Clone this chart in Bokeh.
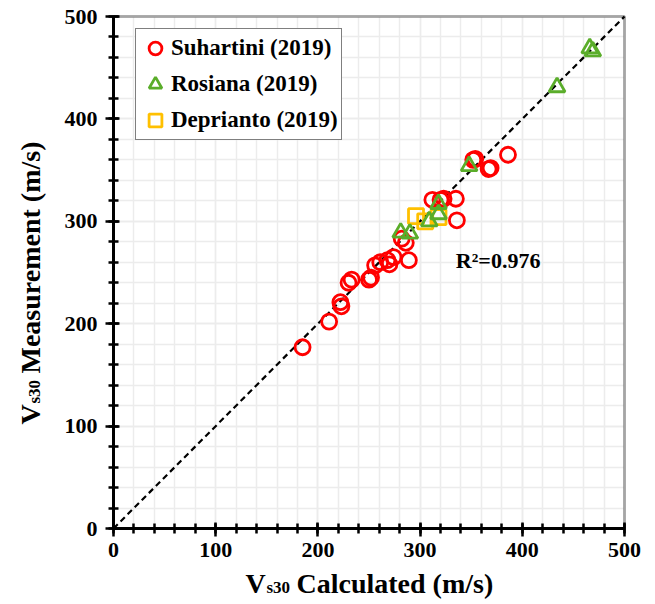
from bokeh.plotting import figure
from bokeh.models import (Range1d, SingleIntervalTicker, Label, Legend, LegendItem,
                          ColumnDataSource, BoxAnnotation)
from bokeh.embed import file_html
from bokeh.resources import INLINE
import math

# ---- data ----
suhartini_calc = [185, 211, 222, 223, 230, 233, 250, 252, 256, 261, 268, 270, 274, 282, 286, 289,
                  312, 320, 323, 335, 336, 352, 354, 367, 369, 386]
suhartini_meas = [177, 202, 221, 217, 240, 243, 243, 245, 257, 260, 262, 258, 265, 283, 279, 262,
                  321, 321, 322, 322, 301, 360, 361, 351, 352, 365]
rosiana_calc = [281, 290, 309, 318, 318, 348, 434, 466, 469]
rosiana_meas = [289, 288, 300, 307, 317, 354, 431, 469, 466]
deprianto_calc = [296, 305, 318]
deprianto_meas = [305, 300, 304]
one_to_one = [0, 500]
axis_min, axis_max = 0, 500
r2_text = "R\u00b2=0.976"
series_names = ["Suhartini (2019)", "Rosiana (2019)", "Deprianto (2019)"]

FONT = "Liberation Serif"
RED = "#FF0000"
GREEN = "#5AAD2A"
YELLOW = "#FFC000"

W, H = 655, 604
# pixel placement of the data area inside the canvas
L_PX, R_PX, T_PX, B_PX = 113, 624, 16, 528
xs = (axis_max - axis_min) / (R_PX - L_PX)
ys = (axis_max - axis_min) / (B_PX - T_PX)
x_range = Range1d(axis_min - L_PX * xs, axis_max + (W - R_PX) * xs)
y_range = Range1d(axis_min - (H - B_PX) * ys, axis_max + T_PX * ys)

p = figure(width=W, height=H, output_backend="svg", toolbar_location=None,
           x_range=x_range, y_range=y_range,
           min_border_left=0, min_border_right=0, min_border_top=0, min_border_bottom=0)
p.background_fill_color = "white"
p.border_fill_color = "white"
p.outline_line_color = None

for ax in (p.xaxis[0], p.yaxis[0]):
    ax.fixed_location = 0
    ax.bounds = (axis_min, axis_max)
    ax.ticker = SingleIntervalTicker(interval=100, num_minor_ticks=5)
    ax.axis_line_width = 3
    ax.axis_line_color = "black"
    ax.major_tick_line_width = 2.5
    ax.minor_tick_line_width = 2.5
    ax.major_tick_in = 6
    ax.major_tick_out = 8
    ax.minor_tick_in = 5
    ax.minor_tick_out = 5
    ax.major_label_text_font = FONT
    ax.major_label_text_font_style = "bold"
    ax.major_label_text_font_size = "22px"
    ax.major_label_text_color = "black"
    ax.axis_label = None
p.xaxis.major_label_standoff = 6
p.yaxis.major_label_standoff = 8

for g in (p.xgrid[0], p.ygrid[0]):
    g.ticker = SingleIntervalTicker(interval=100, num_minor_ticks=5)
    g.bounds = (axis_min, axis_max)
    g.cross_bounds = (axis_min, axis_max)
    g.grid_line_color = "#ececec"
    g.grid_line_width = 1.5
    g.minor_grid_line_color = "#ececec"
    g.minor_grid_line_width = 1.5

# frame border (top / right)
p.add_layout(BoxAnnotation(left=axis_min, right=axis_max, bottom=axis_min, top=axis_max,
                           fill_alpha=0, line_color="black", line_width=3, level="overlay"))

# 1:1 line
p.line(one_to_one, one_to_one, line_color="black", line_width=2.2, line_dash="6 4")

src_s = ColumnDataSource(dict(x=suhartini_calc, y=suhartini_meas))
src_r = ColumnDataSource(dict(x=rosiana_calc, y=rosiana_meas))
src_d = ColumnDataSource(dict(x=deprianto_calc, y=deprianto_meas))

r_s = p.scatter("x", "y", source=src_s, marker="circle", size=15, fill_color=None,
                line_color=RED, line_width=2.8)
r_d = p.scatter("x", "y", source=src_d, marker="square", size=15, fill_color=None,
                line_color=YELLOW, line_width=2.8)
r_r = p.scatter("x", "y", source=src_r, marker="triangle", size=16, fill_color=None,
                line_color=GREEN, line_width=2.8)

legend = Legend(items=[LegendItem(label=series_names[0], renderers=[r_s]),
                       LegendItem(label=series_names[1], renderers=[r_r]),
                       LegendItem(label=series_names[2], renderers=[r_d])],
                location=(135, H - 140))
legend.label_text_font = FONT
legend.label_text_font_style = "bold"
legend.label_text_font_size = "23px"
legend.label_text_color = "black"
legend.glyph_width = 32
legend.glyph_height = 32
legend.label_height = 32
legend.label_standoff = 0
legend.spacing = 4
legend.padding = 3
legend.margin = 0
legend.border_line_color = "black"
legend.border_line_width = 1.5
legend.background_fill_color = "white"
legend.background_fill_alpha = 1
p.add_layout(legend, "center")

# R^2 annotation
p.add_layout(Label(x=335, y=262, text=r2_text, text_font=FONT, text_font_style="bold",
                   text_font_size="22px", text_baseline="middle", text_align="left",
                   text_color="black"))

def lab(text, x, y, size, angle=0.0):
    return Label(x=x, y=y, x_units="screen", y_units="screen", text=text, text_font=FONT,
                 text_font_style="bold", text_font_size=size, text_baseline="alphabetic",
                 text_align="left", text_color="black", angle=angle)

# x axis title with subscript
p.add_layout(lab("V", 245, 21, "28px"))
p.add_layout(lab("s30", 266, 17, "17px"))
p.add_layout(lab("Calculated (m/s)", 296, 21, "28px"))

# y axis title rotated
a = math.pi / 2
p.add_layout(lab("V", 30, 180, "28px", a))
p.add_layout(lab("s30", 34, 201, "17px", a))
p.add_layout(lab("Measurement (m/s)", 30, 231, "28px", a))

open("out.html", "w").write(file_html(p, INLINE))
